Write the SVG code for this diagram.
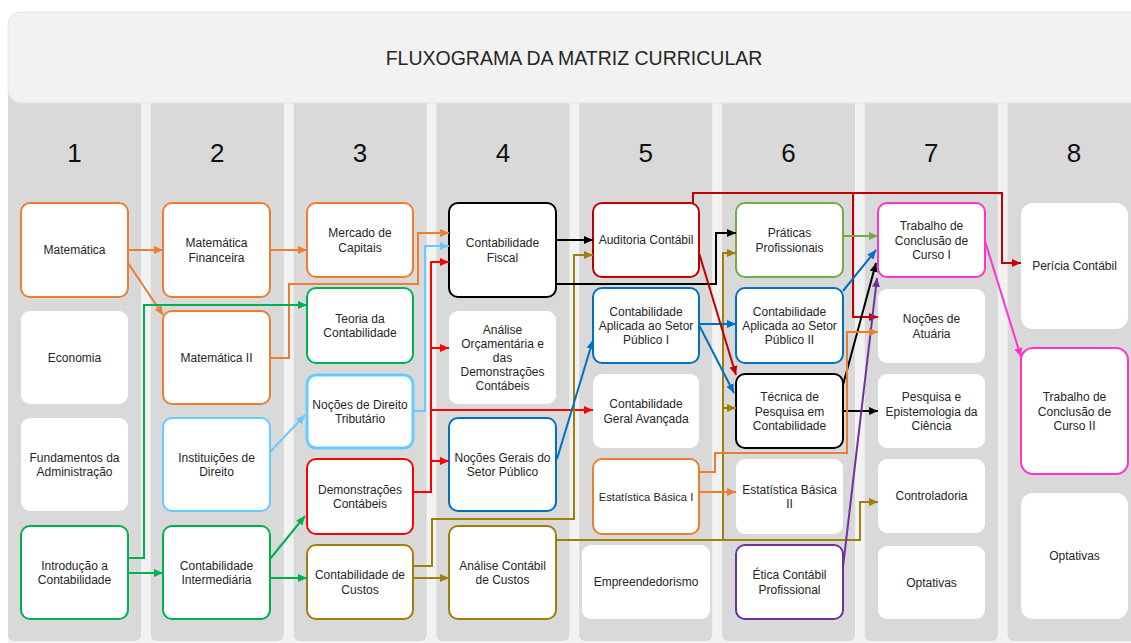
<svg xmlns="http://www.w3.org/2000/svg" width="1131" height="643" viewBox="0 0 1131 643">
<style>
.col{fill:#d9d9d9}
.box{fill:#ffffff}
.b{stroke-width:2}
.t{font-family:"Liberation Sans",Arial,sans-serif;font-size:12px;fill:#262626;text-anchor:middle}
.num{font-family:"Liberation Sans",Arial,sans-serif;font-size:26px;fill:#111;text-anchor:middle}
.title{font-family:"Liberation Sans",Arial,sans-serif;font-size:19.5px;fill:#262626;text-anchor:middle}
.c{fill:none;stroke-width:2}
.or{stroke:#ED7D31}.gr{stroke:#00B050}.lb{stroke:#66CCFF}.rd{stroke:#FF0000}.gd{stroke:#A07E0A}
.bk{stroke:#000000}.bl{stroke:#0070C0}.dr{stroke:#C00000}.lg{stroke:#70AD47}.pu{stroke:#7030A0}.mg{stroke:#FF33CC}
</style>
<defs>
<marker id="aor" markerUnits="userSpaceOnUse" markerWidth="9" markerHeight="8" refX="9" refY="4" orient="auto"><path d="M0,0L9,4L0,8z" fill="#ED7D31"/></marker>
<marker id="agr" markerUnits="userSpaceOnUse" markerWidth="9" markerHeight="8" refX="9" refY="4" orient="auto"><path d="M0,0L9,4L0,8z" fill="#00B050"/></marker>
<marker id="alb" markerUnits="userSpaceOnUse" markerWidth="9" markerHeight="8" refX="9" refY="4" orient="auto"><path d="M0,0L9,4L0,8z" fill="#66CCFF"/></marker>
<marker id="ard" markerUnits="userSpaceOnUse" markerWidth="9" markerHeight="8" refX="9" refY="4" orient="auto"><path d="M0,0L9,4L0,8z" fill="#FF0000"/></marker>
<marker id="agd" markerUnits="userSpaceOnUse" markerWidth="9" markerHeight="8" refX="9" refY="4" orient="auto"><path d="M0,0L9,4L0,8z" fill="#A07E0A"/></marker>
<marker id="abk" markerUnits="userSpaceOnUse" markerWidth="9" markerHeight="8" refX="9" refY="4" orient="auto"><path d="M0,0L9,4L0,8z" fill="#000000"/></marker>
<marker id="abl" markerUnits="userSpaceOnUse" markerWidth="9" markerHeight="8" refX="9" refY="4" orient="auto"><path d="M0,0L9,4L0,8z" fill="#0070C0"/></marker>
<marker id="adr" markerUnits="userSpaceOnUse" markerWidth="9" markerHeight="8" refX="9" refY="4" orient="auto"><path d="M0,0L9,4L0,8z" fill="#C00000"/></marker>
<marker id="alg" markerUnits="userSpaceOnUse" markerWidth="9" markerHeight="8" refX="9" refY="4" orient="auto"><path d="M0,0L9,4L0,8z" fill="#70AD47"/></marker>
<marker id="apu" markerUnits="userSpaceOnUse" markerWidth="9" markerHeight="8" refX="9" refY="4" orient="auto"><path d="M0,0L9,4L0,8z" fill="#7030A0"/></marker>
<marker id="amg" markerUnits="userSpaceOnUse" markerWidth="9" markerHeight="8" refX="9" refY="4" orient="auto"><path d="M0,0L9,4L0,8z" fill="#FF33CC"/></marker>
</defs>
<rect x="0" y="0" width="1131" height="643" fill="#ffffff"/>
<rect x="8" y="100" width="1123" height="543" fill="#f2f2f2"/>
<g id="columns">
<rect class="col" x="8" y="90" width="133" height="551" rx="6"/>
<rect class="col" x="150.8" y="90" width="133" height="551" rx="6"/>
<rect class="col" x="293.6" y="90" width="133" height="551" rx="6"/>
<rect class="col" x="436.4" y="90" width="133" height="551" rx="6"/>
<rect class="col" x="579.2" y="90" width="133" height="551" rx="6"/>
<rect class="col" x="722" y="90" width="133" height="551" rx="6"/>
<rect class="col" x="864.8" y="90" width="133" height="551" rx="6"/>
<rect class="col" x="1007.6" y="90" width="133" height="551" rx="6"/>
</g>
<g id="header">
<rect x="8" y="12" width="1140" height="91" rx="13" fill="#f2f2f2" stroke="#e4e4e4" stroke-width="1"/>
<text class="title" x="574" y="65">FLUXOGRAMA DA MATRIZ CURRICULAR</text>
</g>
<g id="semesters">
<text class="num" x="74.5" y="162">1</text>
<text class="num" x="217.3" y="162">2</text>
<text class="num" x="360.1" y="162">3</text>
<text class="num" x="502.9" y="162">4</text>
<text class="num" x="645.7" y="162">5</text>
<text class="num" x="788.5" y="162">6</text>
<text class="num" x="931.3" y="162">7</text>
<text class="num" x="1074.1" y="162">8</text>
</g>
<g id="n-matematica"><rect class="box b or" x="21" y="203" width="107" height="94" rx="9"/><text class="t" x="74.5" y="254.3">Matemática</text></g>
<g id="n-economia"><rect class="box" x="21" y="311" width="107" height="93" rx="9"/><text class="t" x="74.5" y="361.8">Economia</text></g>
<g id="n-fundamentos"><rect class="box" x="21" y="418" width="107" height="93" rx="9"/><text class="t" x="74.5" y="461.9">Fundamentos da</text><text class="t" x="74.5" y="476.1">Administração</text></g>
<g id="n-introducao"><rect class="box b gr" x="21" y="526" width="107" height="93" rx="9"/><text class="t" x="74.5" y="569.9">Introdução a</text><text class="t" x="74.5" y="584.1">Contabilidade</text></g>

<g id="n-matfin"><rect class="box b or" x="163" y="203" width="107" height="94" rx="9"/><text class="t" x="216.5" y="247.4">Matemática</text><text class="t" x="216.5" y="261.6">Financeira</text></g>
<g id="n-matii"><rect class="box b or" x="163" y="311" width="107" height="93" rx="9"/><text class="t" x="216.5" y="361.8">Matemática II</text></g>
<g id="n-instituicoes"><rect class="box b lb" x="163" y="418" width="107" height="93" rx="9"/><text class="t" x="216.5" y="461.9">Instituições de</text><text class="t" x="216.5" y="476.1">Direito</text></g>
<g id="n-contabint"><rect class="box b gr" x="163" y="526" width="107" height="93" rx="9"/><text class="t" x="216.5" y="569.9">Contabilidade</text><text class="t" x="216.5" y="584.1">Intermediária</text></g>

<g id="n-mercado"><rect class="box b or" x="307" y="203" width="106" height="74" rx="9"/><text class="t" x="360" y="237.4">Mercado de</text><text class="t" x="360" y="251.6">Capitais</text></g>
<g id="n-teoria"><rect class="box b gr" x="307" y="288" width="106" height="75" rx="9"/><text class="t" x="360" y="322.9">Teoria da</text><text class="t" x="360" y="337.1">Contabilidade</text></g>
<g id="n-direitotrib"><rect class="box lb" stroke-width="3" x="307" y="375" width="106" height="73" rx="9"/><text class="t" x="360" y="408.9">Noções de Direito</text><text class="t" x="360" y="423.1">Tributário</text></g>
<g id="n-demonstracoes"><rect class="box b rd" x="307" y="459" width="106" height="75" rx="9"/><text class="t" x="360" y="493.9">Demonstrações</text><text class="t" x="360" y="508.1">Contábeis</text></g>
<g id="n-contabcustos"><rect class="box b gd" x="307" y="545" width="106" height="74" rx="9"/><text class="t" x="360" y="579.4">Contabilidade de</text><text class="t" x="360" y="593.6">Custos</text></g>

<g id="n-fiscal"><rect class="box b bk" x="449" y="203" width="107" height="94" rx="9"/><text class="t" x="502.5" y="247.4">Contabilidade</text><text class="t" x="502.5" y="261.6">Fiscal</text></g>
<g id="n-analiseorc"><rect class="box" x="449" y="311" width="107" height="93" rx="9"/><text class="t" x="502.5" y="333.6">Análise</text><text class="t" x="502.5" y="347.8">Orçamentária e</text><text class="t" x="502.5" y="362">das</text><text class="t" x="502.5" y="376.2">Demonstrações</text><text class="t" x="502.5" y="390.4">Contábeis</text></g>
<g id="n-nocoesgerais"><rect class="box b bl" x="449" y="418" width="107" height="93" rx="9"/><text class="t" x="502.5" y="461.9">Noções Gerais do</text><text class="t" x="502.5" y="476.1">Setor Público</text></g>
<g id="n-analisecustos"><rect class="box b gd" x="449" y="526" width="107" height="93" rx="9"/><text class="t" x="502.5" y="569.9">Análise Contábil</text><text class="t" x="502.5" y="584.1">de Custos</text></g>

<g id="n-auditoria"><rect class="box b dr" x="593" y="203" width="106" height="74" rx="9"/><text class="t" x="646" y="244.3">Auditoria Contábil</text></g>
<g id="n-casp1"><rect class="box b bl" x="593" y="288" width="106" height="75" rx="9"/><text class="t" x="646" y="315.8">Contabilidade</text><text class="t" x="646" y="330">Aplicada ao Setor</text><text class="t" x="646" y="344.2">Público I</text></g>
<g id="n-cga"><rect class="box" x="593" y="374" width="106" height="74" rx="9"/><text class="t" x="646" y="408.4">Contabilidade</text><text class="t" x="646" y="422.6">Geral Avançada</text></g>
<g id="n-est1"><rect class="box b or" x="593" y="459" width="106" height="75" rx="9"/><text class="t" x="646" y="500.8" style="font-size:11.2px">Estatística Básica I</text></g>
<g id="n-empreend"><rect class="box" x="582" y="545" width="128" height="74" rx="9"/><text class="t" x="646" y="586.3">Empreendedorismo</text></g>

<g id="n-praticas"><rect class="box b lg" x="736" y="203" width="107" height="74" rx="9"/><text class="t" x="789.5" y="237.4">Práticas</text><text class="t" x="789.5" y="251.6">Profissionais</text></g>
<g id="n-casp2"><rect class="box b bl" x="736" y="288" width="107" height="75" rx="9"/><text class="t" x="789.5" y="315.8">Contabilidade</text><text class="t" x="789.5" y="330">Aplicada ao Setor</text><text class="t" x="789.5" y="344.2">Público II</text></g>
<g id="n-tecnica"><rect class="box b bk" x="736" y="374" width="107" height="74" rx="9"/><text class="t" x="789.5" y="401.3">Técnica de</text><text class="t" x="789.5" y="415.5">Pesquisa em</text><text class="t" x="789.5" y="429.7">Contabilidade</text></g>
<g id="n-est2"><rect class="box" x="736" y="459" width="107" height="75" rx="9"/><text class="t" x="789.5" y="493.9">Estatística Básica</text><text class="t" x="789.5" y="508.1">II</text></g>
<g id="n-etica"><rect class="box b pu" x="736" y="545" width="107" height="74" rx="9"/><text class="t" x="789.5" y="579.4">Ética Contábil</text><text class="t" x="789.5" y="593.6">Profissional</text></g>

<g id="n-tcc1"><rect class="box b mg" x="878" y="203" width="107" height="74" rx="9"/><text class="t" x="931.5" y="230.3">Trabalho de</text><text class="t" x="931.5" y="244.5">Conclusão de</text><text class="t" x="931.5" y="258.7">Curso I</text></g>
<g id="n-atuaria"><rect class="box" x="878" y="289" width="107" height="74" rx="9"/><text class="t" x="931.5" y="323.4">Noções de</text><text class="t" x="931.5" y="337.6">Atuária</text></g>
<g id="n-epist"><rect class="box" x="878" y="374" width="107" height="74" rx="9"/><text class="t" x="931.5" y="401.3">Pesquisa e</text><text class="t" x="931.5" y="415.5">Epistemologia da</text><text class="t" x="931.5" y="429.7">Ciência</text></g>
<g id="n-controladoria"><rect class="box" x="878" y="459" width="107" height="74" rx="9"/><text class="t" x="931.5" y="500.3">Controladoria</text></g>
<g id="n-optativas7"><rect class="box" x="878" y="546" width="107" height="73" rx="9"/><text class="t" x="931.5" y="586.8">Optativas</text></g>

<g id="n-pericia"><rect class="box" x="1021" y="203" width="107" height="126" rx="12"/><text class="t" x="1074.5" y="270.3">Perícia Contábil</text></g>
<g id="n-tcc2"><rect class="box b mg" x="1021" y="348" width="107" height="126" rx="12"/><text class="t" x="1074.5" y="401.3">Trabalho de</text><text class="t" x="1074.5" y="415.5">Conclusão de</text><text class="t" x="1074.5" y="429.7">Curso II</text></g>
<g id="n-optativas8"><rect class="box" x="1021" y="493" width="107" height="126" rx="12"/><text class="t" x="1074.5" y="560.3">Optativas</text></g>

<g id="connectors">
<path class="c or" d="M128,250H163" marker-end="url(#aor)"/>
<path class="c or" d="M128,263L163,315" marker-end="url(#aor)"/>
<path class="c or" d="M270,250H307" marker-end="url(#aor)"/>
<path class="c or" d="M270,358H289V284H418V233H449" marker-end="url(#aor)"/>
<path class="c gr" d="M128,558H144V305H307" marker-end="url(#agr)"/>
<path class="c gr" d="M128,573H163" marker-end="url(#agr)"/>
<path class="c lb" stroke-width="1.5" d="M270,452L305,415" marker-end="url(#alb)"/>
<path class="c gr" d="M270,559L305,516" marker-end="url(#agr)"/>
<path class="c gr" d="M270,578H307" marker-end="url(#agr)"/>
<path class="c lb" stroke-width="3" d="M413,411H425V246H449" marker-end="url(#alb)"/>
<path class="c rd" d="M413,492H431V262H449" marker-end="url(#ard)"/>
<path class="c rd" d="M431,348H449" marker-end="url(#ard)"/>
<path class="c rd" d="M431,410H593" marker-end="url(#ard)"/>
<path class="c rd" d="M431,461H449" marker-end="url(#ard)"/>
<path class="c gd" d="M413,578H449" marker-end="url(#agd)"/>
<path class="c gd" d="M413,566H432V519H574V255H593" marker-end="url(#agd)"/>
<path class="c gd" d="M556,540H860V502H878" marker-end="url(#agd)"/>
<path class="c gd" d="M723,540V253H736" marker-end="url(#agd)"/>
<path class="c gd" d="M723,408H736" marker-end="url(#agd)"/>
<path class="c bk" d="M556,240H593" marker-end="url(#abk)"/>
<path class="c bk" d="M556,284H716V233H736" marker-end="url(#abk)"/>
<path class="c bl" d="M557,459L593,340" marker-end="url(#abl)"/>
<path class="c bl" d="M699,324H736" marker-end="url(#abl)"/>
<path class="c bl" d="M699,325L734,393" marker-end="url(#abl)"/>
<path class="c dr" d="M699,253L736,375" marker-end="url(#adr)"/>
<path class="c dr" d="M693,203V193H1002V263H1021" marker-end="url(#adr)"/>
<path class="c dr" d="M853,193V317H878" marker-end="url(#adr)"/>
<path class="c lg" d="M843,236H878" marker-end="url(#alg)"/>
<path class="c bl" d="M843,291L876,250" marker-end="url(#abl)"/>
<path class="c bk" d="M843,385L876,263" marker-end="url(#abk)"/>
<path class="c bk" d="M843,411H878" marker-end="url(#abk)"/>
<path class="c pu" d="M843,567L877,278" marker-end="url(#apu)"/>
<path class="c or" d="M699,492H736" marker-end="url(#aor)"/>
<path class="c or" d="M699,472H715V453H847V332H878" marker-end="url(#aor)"/>
<path class="c mg" d="M985,241L1021,357" marker-end="url(#amg)"/>
</g>
</svg>
